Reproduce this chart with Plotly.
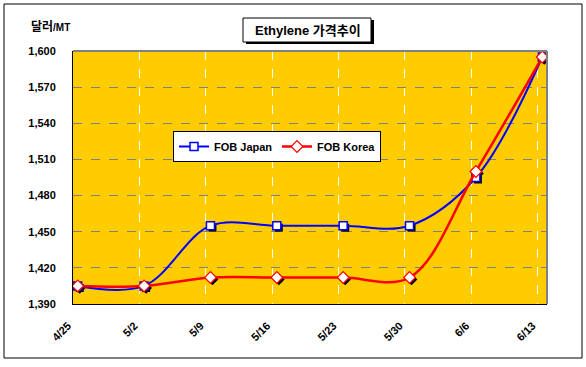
import plotly.graph_objects as go
from datetime import datetime, timedelta

# ---- data ----
dates = ["2008-04-25 12:00", "2008-05-02 12:00", "2008-05-09 12:00", "2008-05-16 12:00",
         "2008-05-23 12:00", "2008-05-30 12:00", "2008-06-06 12:00", "2008-06-13 12:00"]
tick_dates = ["2008-04-25", "2008-05-02", "2008-05-09", "2008-05-16",
              "2008-05-23", "2008-05-30", "2008-06-06", "2008-06-13"]
tick_labels = ["4/25", "5/2", "5/9", "5/16", "5/23", "5/30", "6/6", "6/13"]
fob_japan = [1405, 1405, 1455, 1455, 1455, 1455, 1495, 1595]
fob_korea = [1405, 1405, 1412, 1412, 1412, 1412, 1500, 1595]
y_ticks = [1390, 1420, 1450, 1480, 1510, 1540, 1570, 1600]

W, H = 586, 367
L, R, T, B = 73, 547, 51, 304  # plot area in px

def fx(px):
    return (px - L) / (R - L)

def fy(py):
    return (B - py) / (B - T)

FONT = "Arial, Liberation Sans, Noto Sans CJK KR"

# shadow offsets (px -> data)
x_range = [datetime(2008, 4, 25), datetime(2008, 6, 14)]
day_px = (R - L) / ((x_range[1] - x_range[0]).total_seconds() / 86400)
y_px = (B - T) / (1600 - 1390)
sh_dx = timedelta(days=2 / day_px)
sh_dy = 2 / y_px

def shift(ds):
    return [datetime.strptime(d, "%Y-%m-%d %H:%M") + sh_dx for d in ds]

fig = go.Figure()

# shadows
fig.add_trace(go.Scatter(x=shift(dates), y=[v - sh_dy for v in fob_japan], mode="markers",
                         marker=dict(symbol="square", size=8, color="black"),
                         showlegend=False, hoverinfo="skip"))
fig.add_trace(go.Scatter(x=shift(dates), y=[v - sh_dy for v in fob_korea], mode="markers",
                         marker=dict(symbol="diamond", size=9, color="black"),
                         showlegend=False, hoverinfo="skip"))

fig.add_trace(go.Scatter(
    x=dates, y=fob_japan, name="FOB Japan", mode="lines+markers",
    line=dict(color="#0000FF", width=2, shape="spline", smoothing=1),
    marker=dict(symbol="square", size=8, color="white", line=dict(color="#0000FF", width=1.5)),
))
fig.add_trace(go.Scatter(
    x=dates, y=fob_korea, name="FOB Korea", mode="lines+markers",
    line=dict(color="#FF0000", width=2.5, shape="spline", smoothing=1),
    marker=dict(symbol="diamond", size=9, color="white", line=dict(color="#FF0000", width=1.2)),
))

shapes = [
    # outer border
    dict(type="rect", xref="paper", yref="paper", x0=fx(4), x1=fx(582), y0=fy(358), y1=fy(4),
         line=dict(color="black", width=1), layer="below"),
    # plot border top/right (gray)
    dict(type="line", xref="paper", yref="paper", x0=0, x1=1, y0=1, y1=1,
         line=dict(color="#808080", width=2)),
    dict(type="line", xref="paper", yref="paper", x0=1, x1=1, y0=0, y1=1,
         line=dict(color="#808080", width=2)),
    # title box shadow + box
    dict(type="rect", xref="paper", yref="paper", x0=fx(246), x1=fx(374), y0=fy(44), y1=fy(20),
         fillcolor="black", line=dict(width=0)),
    dict(type="rect", xref="paper", yref="paper", x0=fx(243), x1=fx(371), y0=fy(42), y1=fy(18),
         fillcolor="white", line=dict(color="black", width=1)),
]

annotations = [
    dict(text="<b>Ethylene 가격추이</b>", xref="paper", yref="paper", x=fx(308), y=fy(30),
         showarrow=False, font=dict(family=FONT, size=13, color="black"),
         xanchor="center", yanchor="middle"),
    dict(text="<b>달러</b><b style='font-size:10px'>/MT</b>", xref="paper", yref="paper", x=fx(29), y=fy(27),
         showarrow=False, font=dict(family=FONT, size=12, color="black"),
         xanchor="left", yanchor="middle"),
]

fig.update_layout(
    width=W, height=H,
    margin=dict(l=L, r=W - R, t=T, b=H - B, autoexpand=False),
    paper_bgcolor="white", plot_bgcolor="#FFCC00",
    font=dict(family=FONT, size=11, color="black"),
    shapes=shapes, annotations=annotations,
    legend=dict(x=fx(173), y=fy(131), xanchor="left", yanchor="top", orientation="h",
                bgcolor="white", bordercolor="black", borderwidth=1,
                font=dict(family=FONT, size=11, color="black", weight="bold"),
                itemwidth=30, entrywidth=58, tracegroupgap=0),
    xaxis=dict(type="date", range=x_range, tickvals=tick_dates, ticktext=tick_labels,
               tickangle=-45, showgrid=True, gridcolor="white", griddash="dash", gridwidth=1,
               showline=True, linecolor="black", linewidth=1, ticks="",
               ticklabelstandoff=10, ticklabelshift=-5,
               tickfont=dict(family=FONT, size=11, color="black", weight="bold"),
               zeroline=False, fixedrange=True),
    yaxis=dict(range=[1390, 1600], tickvals=y_ticks, tickformat=",",
               showgrid=True, gridcolor="#808080", griddash="dash", gridwidth=1,
               showline=True, linecolor="black", linewidth=1, ticks="",
               ticklabelstandoff=14,
               tickfont=dict(family=FONT, size=11, color="black", weight="bold"),
               zeroline=False, fixedrange=True),
    showlegend=True,
)

fig.write_html("out.html", config={"displayModeBar": False},
               post_script="document.body.style.margin='0';document.body.style.overflow='hidden';")
